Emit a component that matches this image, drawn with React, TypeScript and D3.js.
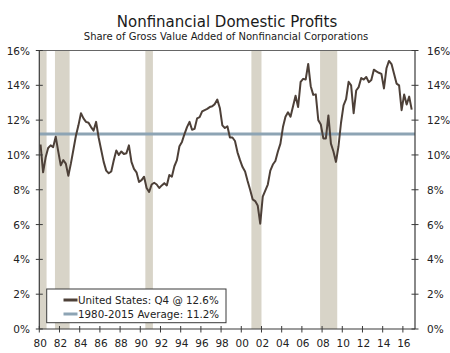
import React, { useEffect, useRef } from "react";
import * as d3 from "d3";

// quarterly, 1980 Q1 .. 2016 Q4
const startYear = 1980;
const profitShare = [
  10.6, 9.0, 9.85, 10.4, // 1980
  10.55, 10.45, 11.05, 10.2, // 1981
  9.4, 9.7, 9.5, 8.8, // 1982
  9.5, 10.3, 11.1, 11.7, // 1983
  12.4, 12.1, 11.9, 11.85, // 1984
  11.6, 11.4, 11.9, 11.0, // 1985
  10.3, 9.6, 9.1, 8.95, // 1986
  9.05, 9.7, 10.25, 10.0, // 1987
  10.2, 10.05, 10.1, 10.55, // 1988
  9.6, 9.2, 9.0, 8.45, // 1989
  8.55, 8.75, 8.1, 7.87, // 1990
  8.3, 8.4, 8.3, 8.1, // 1991
  8.25, 8.38, 8.25, 8.85, // 1992
  8.75, 9.35, 9.7, 10.5, // 1993
  10.75, 11.2, 11.6, 11.9, // 1994
  11.45, 11.5, 12.1, 12.17, // 1995
  12.5, 12.58, 12.65, 12.75, // 1996
  12.8, 12.92, 13.18, 12.7, // 1997
  11.7, 11.55, 11.65, 11.0, // 1998
  11.0, 10.8, 10.15, 9.7, // 1999
  9.3, 9.05, 8.5, 8.0, // 2000
  7.45, 7.35, 7.1, 6.05, // 2001
  7.6, 7.95, 8.3, 9.1, // 2002
  9.45, 9.65, 10.2, 10.65, // 2003
  11.6, 12.2, 12.45, 12.2, // 2004
  12.8, 13.4, 12.75, 14.2, // 2005
  14.37, 14.33, 15.23, 13.95, // 2006
  13.45, 13.48, 12.0, 11.75, // 2007
  10.95, 10.95, 12.27, 10.65, // 2008
  10.2, 9.6, 10.5, 11.85, // 2009
  12.85, 13.2, 14.2, 14.0, // 2010
  12.4, 13.7, 13.9, 14.42, // 2011
  14.33, 14.48, 14.18, 14.3, // 2012
  14.9, 14.8, 14.72, 14.66, // 2013
  13.82, 14.98, 15.4, 15.22, // 2014
  14.66, 14.1, 14.0, 12.57, // 2015
  13.47, 12.9, 13.35, 12.6, // 2016
];

const average = 11.2;

// recessions as [start, end] in decimal years
const recessions = [
  [1980.0, 1980.72],
  [1981.55, 1983.0],
  [1990.5, 1991.25],
  [2001.0, 2002.0],
  [2007.8, 2009.5],
];

const yTicks = [0, 2, 4, 6, 8, 10, 12, 14, 16];
const xTicks = d3.range(1980, 2017, 2);

const legendLabels = ["United States: Q4 @ 12.6%", "1980-2015 Average: 11.2%"];

const W = 450;
const H = 353;
const left = 39.3;
const right = 415;
const top = 50.5;
const bottom = 329;

const lineColor = "#4d4038";
const avgColor = "#8da4b4";
const recColor = "#d8d4c8";
const axisColor = "#3a3a3a";
const font = "'DejaVu Sans', Verdana, sans-serif";

export default function App() {
  const gRef = useRef<SVGGElement>(null);

  useEffect(() => {
    document.body.style.margin = "0";
    const g = d3.select(gRef.current);
    g.selectAll("*").remove();

    const x = d3.scaleLinear().domain([1980, 2017.2]).range([left, right]);
    const y = d3.scaleLinear().domain([0, 16]).range([bottom, top]);

    // recession shading
    g.append("g")
      .selectAll("rect")
      .data(recessions)
      .join("rect")
      .attr("x", (d) => x(d[0]))
      .attr("width", (d) => x(d[1]) - x(d[0]))
      .attr("y", top)
      .attr("height", bottom - top)
      .attr("fill", recColor);

    // average line
    g.append("line")
      .attr("x1", left)
      .attr("x2", right)
      .attr("y1", y(average))
      .attr("y2", y(average))
      .attr("stroke", avgColor)
      .attr("stroke-width", 3);

    const line = d3
      .line<number>()
      .x((d, i) => x(startYear + (i + 0.5) / 4))
      .y((d) => y(d));

    g.append("path")
      .datum(profitShare)
      .attr("d", line)
      .attr("fill", "none")
      .attr("stroke", lineColor)
      .attr("stroke-width", 2)
      .attr("stroke-linejoin", "round");

    // frame
    g.append("line")
      .attr("x1", left).attr("x2", right)
      .attr("y1", top).attr("y2", top)
      .attr("stroke", "#666").attr("stroke-width", 1);
    g.append("line")
      .attr("x1", left).attr("x2", left)
      .attr("y1", top).attr("y2", bottom)
      .attr("stroke", axisColor).attr("stroke-width", 1.2);
    g.append("line")
      .attr("x1", right).attr("x2", right)
      .attr("y1", top).attr("y2", bottom)
      .attr("stroke", axisColor).attr("stroke-width", 1.2);
    g.append("line")
      .attr("x1", left).attr("x2", right)
      .attr("y1", bottom).attr("y2", bottom)
      .attr("stroke", axisColor).attr("stroke-width", 1.2);

    // y ticks both sides
    [left, right].forEach((ax, side) => {
      const t = g.append("g");
      t.selectAll("line")
        .data(yTicks)
        .join("line")
        .attr("x1", ax - 3.5)
        .attr("x2", ax + 3.5)
        .attr("y1", (d) => y(d))
        .attr("y2", (d) => y(d))
        .attr("stroke", axisColor);
      t.selectAll("text")
        .data(yTicks)
        .join("text")
        .attr("x", side === 0 ? 30 : 427)
        .attr("y", (d) => y(d) + 4)
        .attr("text-anchor", side === 0 ? "end" : "start")
        .attr("font-family", font)
        .attr("font-size", 10.5)
        .attr("fill", "#222")
        .text((d) => `${d}%`);
    });

    // x ticks
    const xt = g.append("g");
    xt.selectAll("line")
      .data(xTicks)
      .join("line")
      .attr("x1", (d) => x(d))
      .attr("x2", (d) => x(d))
      .attr("y1", bottom - 3)
      .attr("y2", bottom + 3.5)
      .attr("stroke", axisColor);
    xt.selectAll("text")
      .data(xTicks)
      .join("text")
      .attr("x", (d) => x(d) + 1)
      .attr("y", 346.5)
      .attr("text-anchor", "middle")
      .attr("font-family", font)
      .attr("font-size", 10.5)
      .attr("fill", "#222")
      .text((d) => String(d % 100).padStart(2, "0"));

    // legend
    const lg = g.append("g");
    lg.append("rect")
      .attr("x", 46.7)
      .attr("y", 289)
      .attr("width", 179.3)
      .attr("height", 33.7)
      .attr("fill", "#fff")
      .attr("stroke", axisColor)
      .attr("stroke-width", 1);
    const colors = [lineColor, avgColor];
    lg.selectAll("g.item")
      .data(legendLabels)
      .join("g")
      .attr("class", "item")
      .each(function (d, i) {
        const row = d3.select(this);
        const cy = 300 + i * 14;
        row.append("line")
          .attr("x1", 63.5)
          .attr("x2", 77.5)
          .attr("y1", cy)
          .attr("y2", cy)
          .attr("stroke", colors[i])
          .attr("stroke-width", 3);
        row.append("text")
          .attr("x", 78)
          .attr("y", cy + 3.8)
          .attr("font-family", font)
          .attr("font-size", 10.3)
          .attr("fill", "#222")
          .text(d);
      });
  }, []);

  return (
    <div style={{ position: "absolute", left: 0, top: 0 }}>
      <svg width={W} height={H} style={{ display: "block", background: "#fff" }}>
        <text
          x={227}
          y={26.5}
          textAnchor="middle"
          fontFamily={font}
          fontSize={15}
          fill="#1a1a1a"
        >
          Nonfinancial Domestic Profits
        </text>
        <text
          x={226}
          y={40}
          textAnchor="middle"
          fontFamily={font}
          fontSize={10}
          fill="#1a1a1a"
        >
          Share of Gross Value Added of Nonfinancial Corporations
        </text>
        <g ref={gRef}></g>
      </svg>
    </div>
  );
}
